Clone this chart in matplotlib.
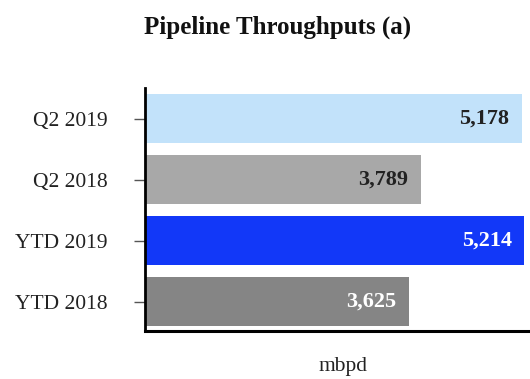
# pipeline throughput bars, quarter and year-to-date

import matplotlib.pyplot as plt

plt.rcParams['font.family'] = ['Liberation Serif', 'DejaVu Serif']

periods = ["Q2 2019", "Q2 2018", "YTD 2019", "YTD 2018"]
throughput = [5178, 3789, 5214, 3625]
bar_colors = ["#c2e2fa", "#a8a8a8", "#1238f8", "#858585"]
label_colors = ["#222222", "#222222", "white", "white"]

fig = plt.figure(figsize=(5.3, 3.79), dpi=100)
ax = fig.add_axes([145/530, 1 - 331/379, 1 - 145/530, (331 - 88)/379])

pos = range(len(periods))
ax.barh(pos, throughput, height=0.8, color=bar_colors)

for i, v in enumerate(throughput):
    ax.annotate(f"{v:,}", (v, i), xytext=(-9, 0), textcoords="offset points",
                ha="right", va="center", fontsize=16, fontweight="bold",
                color=label_colors[i])

ax.set_yticks(list(pos))
ax.set_yticklabels(periods, fontsize=15.5, color="#222222")
ax.set_ylim(3.48, -0.5)
ax.set_xlim(0, 5290)
ax.set_xticks([])
ax.tick_params(axis="y", length=8, width=1, color="#555555", pad=19)

ax.spines["top"].set_visible(False)
ax.spines["right"].set_visible(False)
ax.spines["left"].set_linewidth(2)
ax.spines["bottom"].set_linewidth(2.2)

fig.text(343/530, 1 - 371/379, "mbpd", ha="center", va="baseline",
         fontsize=15.5, color="#222222")
fig.text(278/530, 1 - 34/379, "Pipeline Throughputs (a)", ha="center", va="baseline",
         fontsize=18, fontweight="bold", color="#111111")

plt.savefig("out.png", dpi=100)
